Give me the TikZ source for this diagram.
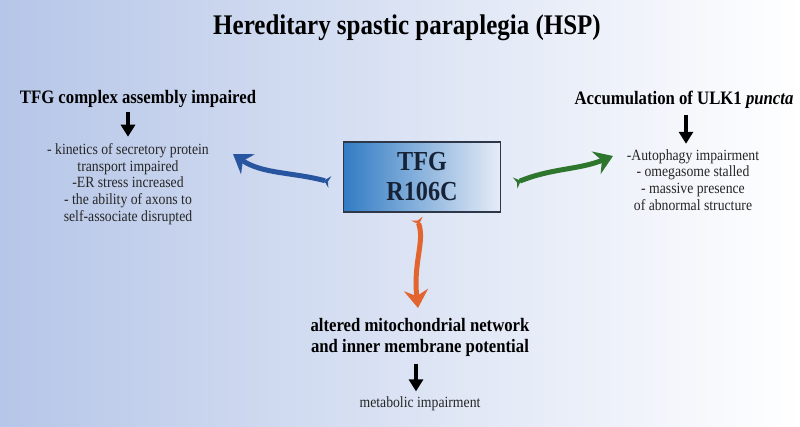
\documentclass[tikz,border=0pt]{standalone}
\usepackage{fontspec}
\setmainfont{Liberation Serif}[FakeStretch=0.88]
\usetikzlibrary{arrows.meta}

\definecolor{bgblue}{RGB}{182,198,232}
\definecolor{boxblue}{RGB}{50,124,196}
\definecolor{boxlight}{RGB}{230,236,247}
\definecolor{boxline}{RGB}{45,55,72}
\definecolor{boxtext}{RGB}{22,34,54}
\definecolor{arrowblue}{RGB}{40,85,160}
\definecolor{arrowgreen}{RGB}{46,118,46}
\definecolor{arroworange}{RGB}{226,100,46}
\definecolor{txtgray}{RGB}{38,38,38}

\begin{document}
\begin{tikzpicture}[
        x=1pt, y=-1pt,
        title/.style={
            font=\fontsize{28.4}{32}\selectfont\bfseries
        },
        heading/.style={
            font=\fontsize{19}{21}\selectfont\bfseries,
            align=center
        },
        effect/.style={
            font=\fontsize{15.6}{16.8}\selectfont,
            text=txtgray,
            align=center
        },
        mutbox/.style={
            draw=boxline,
            line width=1.3pt,
            left color=boxblue,
            right color=boxlight,
            minimum width=157pt,
            minimum height=70pt,
            align=center,
            text=boxtext,
            font=\fontsize{27.5}{30}\selectfont\bfseries
        },
        leadsto/.style={
            line width=4pt,
            -{Triangle[length=12pt,width=14pt]}
        },
        swirl/.style={
            line width=5pt,
            {Stealth[reversed,length=6pt,width=12pt]}-{Stealth[length=18pt,width=24pt,inset=6pt]}
        }
    ]

    % background
    \fill[left color=bgblue, right color=white] (0,0) rectangle (800,426);
    \useasboundingbox (0,0) rectangle (800,426);

    \node[title] (hsp) at (407,28) {Hereditary spastic paraplegia (HSP)};

    \node[mutbox] (tfg) at (422,177) {TFG\\R106C};

    % left branch
    \node[heading] (tfghead) at (138,99) {TFG complex assembly impaired};
    \node[effect] (tfglist) at (128,184)
        {- kinetics of secretory protein\\transport impaired\\-ER stress increased\\- the ability of axons to\\self-associate disrupted};

    % right branch
    \node[heading] (ulkhead) at (684,100) {Accumulation of ULK1 \textit{puncta}};
    \node[effect] (ulklist) at (693,180)
        {-Autophagy impairment\\- omegasome stalled\\- massive presence\\of abnormal structure};

    % bottom branch
    \node[heading] (mitohead) at (420,337) {altered mitochondrial network\\and inner membrane potential};
    \node[effect] (metab) at (420,404) {metabolic impairment};

    \coordinate (bluetip) at (233,154);
    \coordinate (greentip) at (613,156);
    \coordinate (orangetip) at (418,308);

    \draw[swirl, arrowblue] ([xshift=-13pt,yshift=-5pt]tfg.west)
        .. controls (292,172) and (262,174) .. (bluetip);
    \draw[swirl, arrowgreen] ([xshift=14pt,yshift=-6pt]tfg.east)
        .. controls (552,168) and (578,170) .. (greentip);
    \draw[swirl, arroworange] ([xshift=-5pt,yshift=-6pt]tfg.south)
        .. controls (425,242) and (413,262) .. (orangetip);

    \draw[leadsto] (tfglist.north |- 0,112) -- ([yshift=3pt]tfglist.north);
    \draw[leadsto] (ulklist.north -| 686,0) ++(0,-31) -- ++(0,29);
    \draw[leadsto] ([yshift=-4pt]mitohead.south -| 416,0) -- ([yshift=2pt]metab.north -| 416,0);

\end{tikzpicture}
\end{document}
